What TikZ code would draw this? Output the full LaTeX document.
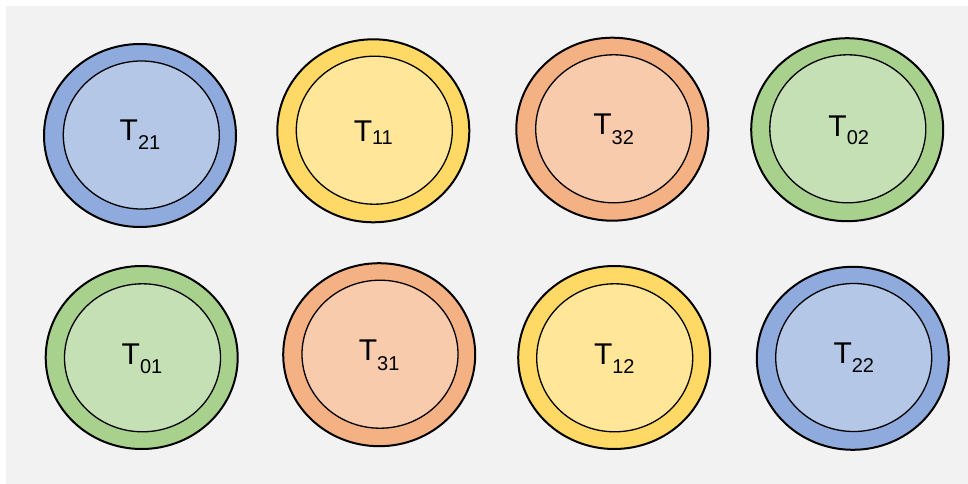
\documentclass[tikz,border=0pt]{standalone}
\usepackage{fontspec}
\setmainfont{Liberation Sans}
\usetikzlibrary{shapes.geometric}
\definecolor{bgc}{HTML}{F2F2F2}
\definecolor{blueO}{HTML}{8FAADC}
\definecolor{blueI}{HTML}{B4C7E7}
\definecolor{yelO}{HTML}{FFD966}
\definecolor{yelI}{HTML}{FFE699}
\definecolor{orO}{HTML}{F4B183}
\definecolor{orI}{HTML}{F8CBAD}
\definecolor{grO}{HTML}{A9D18E}
\definecolor{grI}{HTML}{C5E0B4}
\tikzset{
  outerring/.style={ellipse, draw=black, line width=2pt, minimum width=192pt, minimum height=183pt, inner sep=0pt},
  innerdisc/.style={ellipse, draw=black, line width=1.3pt, minimum width=156pt, minimum height=148pt, inner sep=0pt},
  lbl/.style={anchor=base, inner sep=0pt, font=\fontsize{30}{36}\selectfont},
}
\newcommand{\tsub}[2]{T\raisebox{-#1pt}{\fontsize{20}{24}\selectfont #2}}
\begin{document}
\begin{tikzpicture}[x=1pt,y=-1pt]
\useasboundingbox (0,0) rectangle (968,484);
\fill[bgc] (6,6) rectangle (968,484);
% top row
\node[outerring, fill=blueO] (o21) at (140,135.5) {};
\node[innerdisc, fill=blueI] (i21) at (141.3,135) {};
\node[lbl] (t21) at (140,140) {\tsub{9.3}{21}};
\node[outerring, fill=yelO] (o11) at (373.3,130.8) {};
\node[innerdisc, fill=yelI] (i11) at (374.3,130.2) {};
\node[lbl] (t11) at (373.3,141) {\tsub{3.3}{11}};
\node[outerring, fill=orO] (o32) at (612.3,129.2) {};
\node[innerdisc, fill=orI] (i32) at (613.7,128.8) {};
\node[lbl] (t32) at (613.7,134.3) {\tsub{10}{32}};
\node[outerring, fill=grO] (o02) at (847.2,129.7) {};
\node[innerdisc, fill=grI] (i02) at (847.8,128.8) {};
\node[lbl] (t02) at (848.7,136) {\tsub{8.3}{02}};
% bottom row
\node[outerring, fill=grO] (o01) at (141.7,357.5) {};
\node[innerdisc, fill=grI] (i01) at (142.5,357.8) {};
\node[lbl] (t01) at (142,364.3) {\tsub{9}{01}};
\node[outerring, fill=orO] (o31) at (379.2,354.7) {};
\node[innerdisc, fill=orI] (i31) at (380,354.2) {};
\node[lbl] (t31) at (379.2,360) {\tsub{10}{31}};
\node[outerring, fill=yelO] (o12) at (614.2,357.5) {};
\node[innerdisc, fill=yelI] (i12) at (614.7,357.8) {};
\node[lbl] (t12) at (614.3,364) {\tsub{9.3}{12}};
\node[outerring, fill=blueO] (o22) at (852.8,358.3) {};
\node[innerdisc, fill=blueI] (i22) at (853.7,357.5) {};
\node[lbl] (t22) at (853.8,363.3) {\tsub{9.3}{22}};
\end{tikzpicture}
\end{document}
